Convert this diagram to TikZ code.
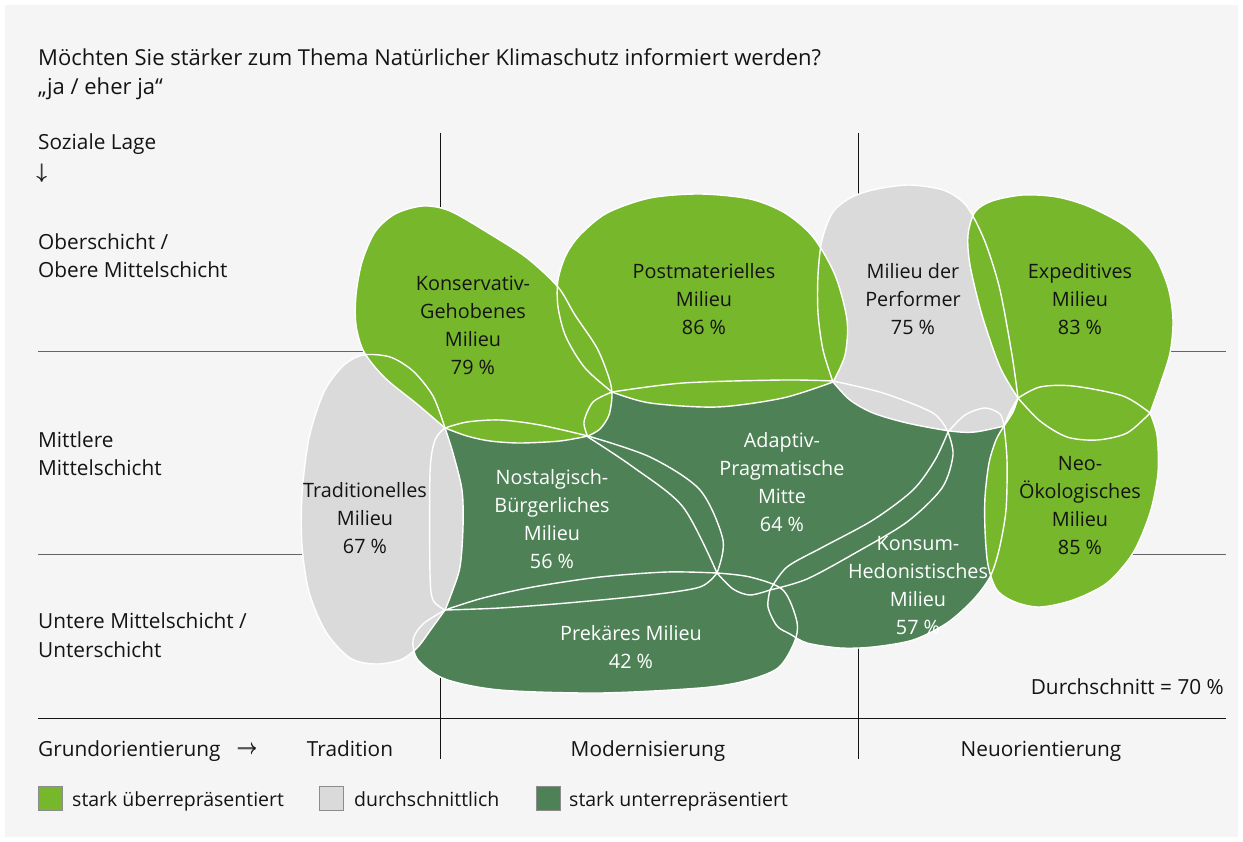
\RequirePackage{fix-cm}
\documentclass[tikz,border=0pt]{standalone}
\usepackage{fontspec}
\setmainfont{Open Sans}
\definecolor{lgreen}{RGB}{119,183,43}
\definecolor{dgreen}{RGB}{78,130,86}
\definecolor{mgray}{RGB}{218,218,218}
\definecolor{bggray}{RGB}{245,245,245}
\definecolor{txtc}{RGB}{20,20,20}
\definecolor{axisc}{RGB}{100,100,100}
\definecolor{legc}{RGB}{140,140,140}
\newcommand\lblfont{\fontsize{19.8}{28}\selectfont}
\newcommand\axfont{\fontsize{20.8}{28}\selectfont}
\newcommand\ttlfont{\fontsize{22}{30}\selectfont}
\newcommand\legfont{\fontsize{19.5}{28}\selectfont}
\newcommand\thickdown{\rlap{$\downarrow$}\kern0.6pt$\downarrow$}
\newcommand\thickright{\rlap{$\rightarrow$}\raisebox{0.5pt}{$\rightarrow$}}

\newcommand\shpT{(445,428) -- plot[smooth] coordinates {(445,428) (453,453) (462,490) (463,527) (460,567) (451,595) (445,610)} -- plot[smooth] coordinates {(445,610) (432,628) (417,648) (400,660) (375,664) (350,658) (326,632) (309,592) (302,545) (302,495) (309,438) (324,392) (343,366) (363,355) (390,357) (413,371) (433,396) (445,428)} -- cycle}
\newcommand\shpK{(445,428) -- plot[smooth] coordinates {(445,428) (417,404) (385,378) (364,352) (356,325) (356,295) (362,262) (375,232) (395,214) (423,206) (450,211) (490,234) (527,258) (558,287) (575,315) (597,348) (609,378) (612,395) (609,415) (600,429) (588,436)} -- plot[smooth] coordinates {(588,436) (560,441) (520,443) (490,441) (467,436) (445,428)} -- cycle}
\newcommand\shpP{(612,392) -- plot[smooth] coordinates {(612,392) (585,368) (566,337) (558,307) (558,280) (566,255) (580,235) (607,213) (650,198) (700,194) (750,199) (785,213) (813,237) (835,275) (847,320) (845,355) (833,382)} -- plot[smooth] coordinates {(833,382) (783,398) (717,407) (650,403) (612,392)} -- cycle}
\newcommand\shpPf{(833,382) -- plot[smooth] coordinates {(833,382) (823,350) (818,313) (818,275) (822,240) (833,212) (852,197) (877,189) (910,185) (943,190) (963,202) (975,220) (987,247) (1000,290) (1012,355) (1018,398)} -- plot[smooth] coordinates {(1018,398) (1010,412) (1004,426)} -- plot[smooth] coordinates {(1004,426) (975,432) (950,431) (907,423) (873,413) (850,400) (833,382)} -- cycle}
\newcommand\shpE{(1018,398) -- plot[smooth] coordinates {(1018,398) (1000,367) (982,315) (970,265) (968,235) (975,212) (992,201) (1023,195) (1057,197) (1090,207) (1127,227) (1153,253) (1168,287) (1173,320) (1170,353) (1160,385) (1150,413)} -- plot[smooth] coordinates {(1150,413) (1127,433) (1097,440) (1067,437) (1040,421) (1018,398)} -- cycle}
\newcommand\shpNe{(1018,398) -- plot[smooth] coordinates {(1018,398) (1040,387) (1073,386) (1123,396) (1150,413)} -- plot[smooth] coordinates {(1150,413) (1157,435) (1158,473) (1150,513) (1133,553) (1107,583) (1073,600) (1040,607) (1015,602) (997,590) (988,565) (985,530) (985,497) (989,463) (996,440) (1004,426)} -- plot[smooth] coordinates {(1004,426) (1013,412) (1018,398)} -- cycle}
\newcommand\shpKo{(1004,426) -- plot[smooth] coordinates {(1004,426) (1007,460) (1006,510) (999,550) (990,577) (973,600) (947,623) (913,640) (873,647) (840,648) (807,643) (790,634) (777,626) (768,607) (770,590)} -- plot[smooth] coordinates {(770,590) (787,567) (823,547) (873,520) (913,490) (935,460) (948,432)} -- plot[smooth] coordinates {(948,432) (965,415) (985,408) (1000,414) (1004,426)} -- cycle}
\newcommand\shpA{(612,392) -- plot[smooth] coordinates {(612,392) (683,383) (783,380) (833,381)} -- plot[smooth] coordinates {(833,381) (883,393) (933,413) (948,432)} -- plot[smooth] coordinates {(948,432) (953,455) (942,488) (907,522) (857,552) (807,579) (770,590)} -- plot[smooth] coordinates {(770,590) (750,595) (733,589) (717,573)} -- plot[smooth] coordinates {(717,573) (683,507) (633,467) (588,437)} -- plot[smooth] coordinates {(588,437) (584,422) (593,402) (612,392)} -- cycle}
\newcommand\shpN{(445,428) -- plot[smooth] coordinates {(445,428) (467,422) (500,420) (540,425) (588,436)} -- plot[smooth] coordinates {(588,436) (650,457) (700,490) (723,540) (717,573)} -- plot[smooth] coordinates {(717,573) (700,587) (650,595) (567,603) (500,608) (445,610)} -- plot[smooth] coordinates {(445,610) (433,600) (430,573) (430,473) (435,440) (445,428)} -- cycle}
\newcommand\shpPr{(445,610) -- plot[smooth] coordinates {(445,610) (483,598) (533,587) (600,577) (667,572) (717,573)} -- plot[smooth] coordinates {(717,573) (750,577) (783,590) (797,622) (794,643) (778,668) (745,681) (700,688) (600,693) (500,690) (445,679) (418,660) (413,640) (423,624) (445,610)} -- cycle}

\begin{document}
\begin{tikzpicture}[x=1pt,y=-1pt,
  outl/.style={draw=white,line width=1.4pt,line join=round},
  lbl/.style={font=\lblfont,align=center,inner sep=0pt,anchor=north,text=txtc},
  lblw/.style={lbl,text=white},
  plain/.style={font=\axfont,inner sep=0pt,anchor=base west,text=txtc},
  legbox/.style={draw=legc,line width=0.8pt},
  axisline/.style={draw=axisc,line width=1pt},
  blackline/.style={draw=txtc,line width=1pt}]
\useasboundingbox (0,0) rectangle (1243,842);
\fill[white] (0,0) rectangle (1243,842);
\fill[bggray] (5,5) rectangle (1238,837);

% axes
\coordinate (h1a) at (38,352); \coordinate (h1b) at (1226,352);
\coordinate (h2a) at (38,554); \coordinate (h2b) at (1226,554);
\coordinate (h3a) at (38,718); \coordinate (h3b) at (1226,718);
\coordinate (v1a) at (440,133); \coordinate (v1b) at (440,759);
\coordinate (v2a) at (858,133); \coordinate (v2b) at (858,759);
\draw[axisline] (h1a) -- (h1b);
\draw[axisline] (h2a) -- (h2b);
\draw[blackline] (h3a) -- (h3b);
\draw[blackline] (v1a) -- (v1b);
\draw[blackline] (v2a) -- (v2b);

% fills
\fill[dgreen] \shpPr;
\fill[dgreen] \shpN;
\fill[dgreen] \shpA;
\fill[dgreen] \shpKo;
\fill[mgray] \shpT;
\fill[mgray] \shpPf;
\fill[lgreen] \shpK;
\fill[lgreen] \shpP;
\fill[lgreen] \shpE;
\fill[lgreen] \shpNe;
% outlines
\draw[outl] \shpPr;
\draw[outl] \shpN;
\draw[outl] \shpA;
\draw[outl] \shpKo;
\draw[outl] \shpT;
\draw[outl] \shpPf;
\draw[outl] \shpK;
\draw[outl] \shpP;
\draw[outl] \shpE;
\draw[outl] \shpNe;

% labels in shapes
\node[lbl] (tK) at (473,270.4) {\strut Konservativ-\\Gehobenes\\Milieu\\79 \%};
\node[lbl] (tP) at (704,258.4) {\strut Postmaterielles\\Milieu\\86 \%};
\node[lbl] (tPf) at (913,258.4) {\strut Milieu der\\Performer\\75 \%};
\node[lbl] (tE) at (1080,258.4) {\strut Expeditives\\Milieu\\83 \%};
\node[lbl] (tNe) at (1080,450.4) {\strut Neo-\\Ökologisches\\Milieu\\85 \%};
\node[lbl] (tT) at (365,477.4) {\strut Traditionelles\\Milieu\\67 \%};
\node[lblw] (tN) at (552,464.4) {\strut Nostalgisch-\\Bürgerliches\\Milieu\\56 \%};
\node[lblw] (tA) at (782,427.4) {\strut Adaptiv-\\Pragmatische\\Mitte\\64 \%};
\node[lblw] (tKo) at (918,530.4) {\strut Konsum-\\Hedonistisches\\Milieu\\57 \%};
\node[lblw] (tPr) at (631,620.4) {\strut Prekäres Milieu\\42 \%};

% titles and axis labels
\node[plain,font=\ttlfont] (title1) at (38,66) {Möchten Sie stärker zum Thema Natürlicher Klimaschutz informiert werden?};
\node[plain,font=\ttlfont] (title2) at (38,95) {„ja / eher ja“};
\node[plain] (soz) at (38,150) {Soziale Lage};
\node[plain,font=\fontsize{21}{24}\selectfont] (sozarr) at (36,178.5) {\thickdown};
\node[plain] (ob1) at (38,250) {Oberschicht /};
\node[plain] (ob2) at (38,278) {Obere Mittelschicht};
\node[plain] (mi1) at (38,447) {Mittlere};
\node[plain] (mi2) at (38,475) {Mittelschicht};
\node[plain] (un1) at (38,628) {Untere Mittelschicht /};
\node[plain] (un2) at (38,657) {Unterschicht};
\node[plain,anchor=base east] (avg) at (1224,694) {Durchschnitt = 70 \%};
\node[plain] (grund) at (38,756) {Grundorientierung\hspace{16pt}\raisebox{2pt}{\thickright}};
\node[plain,anchor=base] (trad) at (350,756) {Tradition};
\node[plain,anchor=base] (mod) at (648,756) {Modernisierung};
\node[plain,anchor=base] (neu) at (1041,756) {Neuorientierung};

% legend
\fill[lgreen,legbox] (38,786) rectangle (62,810);
\node[plain,font=\legfont] (leg1) at (72,806) {stark überrepräsentiert};
\fill[mgray,legbox] (319,786) rectangle (343,810);
\node[plain,font=\legfont] (leg2) at (354,806) {durchschnittlich};
\fill[dgreen,legbox] (536,786) rectangle (560,810);
\node[plain,font=\legfont] (leg3) at (569,806) {stark unterrepräsentiert};
\end{tikzpicture}
\end{document}
